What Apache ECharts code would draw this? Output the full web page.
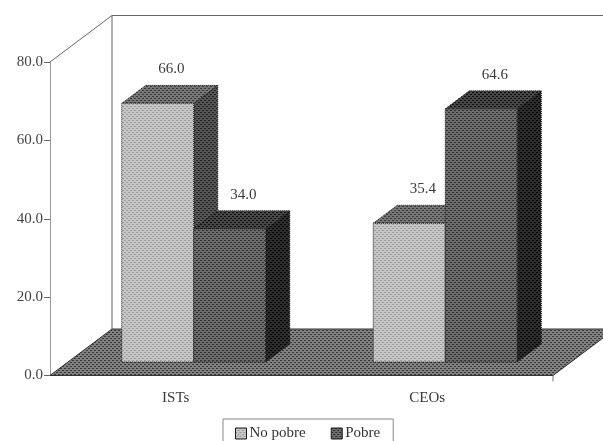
<!DOCTYPE html>
<html><head><meta charset="utf-8">
<style>html,body{margin:0;padding:0;background:#fff}#c{width:603px;height:441px}</style>
<script src="https://cdn.jsdelivr.net/npm/echarts@6/dist/echarts.min.js"></script>
</head><body><div id="c"></div>
<script>
const categories = ['ISTs', 'CEOs'];
const noPobre = [66.0, 35.4];
const pobre = [34.0, 64.6];
const seriesNames = ['No pobre', 'Pobre'];
const yMax = 80;
const yStep = 20;

function pat(a, b) {
  const c = document.createElement('canvas');
  c.width = 4; c.height = 4;
  const g = c.getContext('2d');
  g.fillStyle = b;
  g.fillRect(0, 0, 4, 4);
  g.fillStyle = a;
  g.fillRect(0, 0, 2, 1);
  g.fillRect(2, 2, 2, 1);
  return { image: c, repeat: 'repeat' };
}
const paints = [
  { front: pat('#9c9c9c', '#c6c6c6'), top: pat('#3a3a3a', '#777777'), side: pat('#222222', '#555555') },
  { front: pat('#303030', '#6c6c6c'), top: pat('#101010', '#464646'), side: pat('#040404', '#2c2c2c') }
];
const floorPaint = pat('#3a3a3a', '#808080');
const SHIFT = [18, -13.5], DEPTH = [24, -18], WALL = [62, -46.5], BAR = 72;
const ink = '#1c1c1c';
const font = '15px "Liberation Serif", serif';

function poly(points, fill) {
  return { type: 'polygon', shape: { points }, style: { fill, stroke: ink, lineWidth: 1, lineDash: [1, 1] } };
}
function bar(seriesIdx) {
  return function (params, api) {
    const base = api.coord([api.value(0), 0]);
    const top = api.coord([api.value(0), api.value(1)]);
    const xL = base[0] + SHIFT[0] + (seriesIdx === 0 ? -BAR : 0);
    const xR = xL + BAR;
    const yB = base[1] + SHIFT[1], yT = top[1] + SHIFT[1];
    const dx = DEPTH[0], dy = DEPTH[1], p = paints[seriesIdx];
    return { type: 'group', children: [
      poly([[xR, yB], [xR + dx, yB + dy], [xR + dx, yT + dy], [xR, yT]], p.side),
      poly([[xL, yT], [xL + dx, yT + dy], [xR + dx, yT + dy], [xR, yT]], p.top),
      poly([[xL, yB], [xR, yB], [xR, yT], [xL, yT]], p.front),
      { type: 'text', z2: 50, style: { text: api.value(1).toFixed(1), x: (xL + xR) / 2 + 13.5, y: yT + dy - 16,
        font, fill: '#3a3a3a', align: 'center', verticalAlign: 'middle' } }
    ] };
  };
}
function room(params) {
  const s = params.coordSys;
  const x0 = s.x, y0 = s.y + s.height, x1 = s.x + s.width, yTop = s.y;
  const lineStyle = { stroke: '#666', lineWidth: 1, fill: null };
  return { type: 'group', children: [
    { type: 'polyline', shape: { points: [[x0, yTop], [x0 + WALL[0], yTop + WALL[1]], [x1 + WALL[0], yTop + WALL[1]]] }, style: lineStyle },
    { type: 'line', shape: { x1: x0 + WALL[0], y1: yTop + WALL[1], x2: x0 + WALL[0], y2: y0 + WALL[1] }, style: lineStyle },
    { type: 'polygon', shape: { points: [[x0, y0], [x0 + WALL[0], y0 + WALL[1]], [x1 + WALL[0], y0 + WALL[1]], [x1, y0]] },
      style: { fill: floorPaint, stroke: '#333', lineWidth: 1 } },
    { type: 'line', shape: { x1: x1, y1: y0, x2: x1, y2: y0 + 6 }, style: { stroke: '#777', lineWidth: 1 } }
  ] };
}

const chart = echarts.init(document.getElementById('c'), null, { renderer: 'canvas' });
chart.setOption({
  animation: false,
  backgroundColor: '#fff',
  textStyle: { fontFamily: '"Liberation Serif", serif' },
  grid: { left: 50, right: 50, top: 62, bottom: 65.5 },
  xAxis: { type: 'category', data: categories,
    axisLine: { show: false },
    axisTick: { show: false },
    axisLabel: { fontSize: 15, color: '#3a3a3a', margin: 15 } },
  yAxis: { type: 'value', min: 0, max: yMax, interval: yStep,
    splitLine: { show: false },
    axisLine: { show: true, lineStyle: { color: '#999' } },
    axisTick: { show: true, length: 6, lineStyle: { color: '#666' } },
    axisLabel: { fontSize: 15, color: '#444', margin: 7, formatter: v => v.toFixed(1) } },
  legend: { left: 223, top: 419, itemGap: 25, itemWidth: 11, itemHeight: 11,
    padding: [7, 13, 24, 12], borderColor: '#888', borderWidth: 1,
    textStyle: { fontSize: 15, color: '#333', padding: [0, 0, 0, -2] },
    data: [
      { name: seriesNames[0], icon: 'rect', itemStyle: { color: paints[0].front, borderColor: ink, borderWidth: 1 } },
      { name: seriesNames[1], icon: 'rect', itemStyle: { color: paints[1].front, borderColor: ink, borderWidth: 1 } }
    ] },
  series: [
    { type: 'custom', silent: true, renderItem: room, data: [[0, 0]], z: 1, clip: false, encode: { x: 0, y: 1 } },
    { type: 'custom', name: seriesNames[0], renderItem: bar(0), z: 2, clip: false, encode: { x: 0, y: 1 },
      data: noPobre.map((v, i) => [i, v]) },
    { type: 'custom', name: seriesNames[1], renderItem: bar(1), z: 3, clip: false, encode: { x: 0, y: 1 },
      data: pobre.map((v, i) => [i, v]) }
  ]
});
</script></body></html>
